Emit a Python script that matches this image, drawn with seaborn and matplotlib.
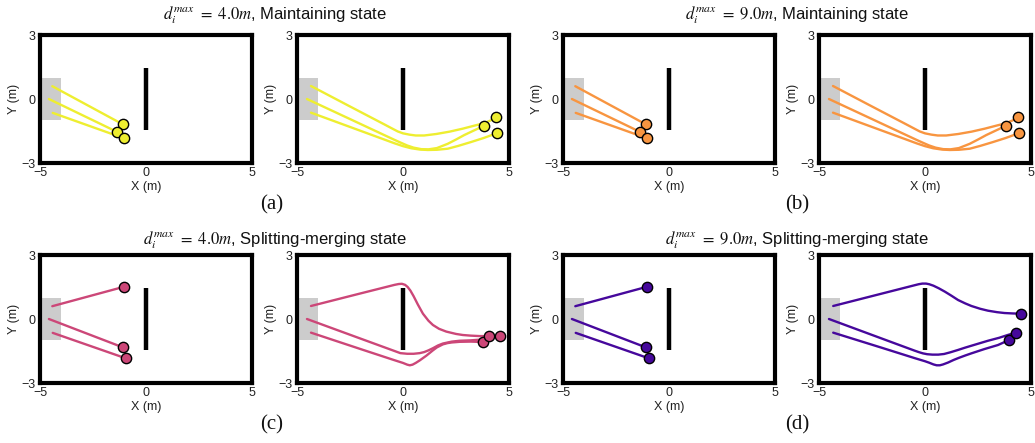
import matplotlib
matplotlib.use("Agg")
import matplotlib.pyplot as plt
import numpy as np
import pandas as pd
import seaborn as sns
from matplotlib.patches import Rectangle

# ---------------- data ----------------
START_ZONE_X = [-5.0, -4.0]
START_ZONE_Y = [-1.0, 1.0]
OBSTACLE_X = [0.0, 0.0]
OBSTACLE_Y = [-1.45, 1.45]

# Maintaining state, short horizon (left panels of a and b)
MAINT_SHORT_X = [[-4.42, -1.09], [-4.58, -1.35], [-4.40, -1.04]]
MAINT_SHORT_Y = [[0.60, -1.19], [0.00, -1.55], [-0.65, -1.84]]

# Maintaining state, full trajectories (right panels of a and b)
MAINT_LONG_X = [
    [-4.34, -2.5, -0.9, -0.5, -0.25, 0.0, 0.3, 0.6, 1.0, 1.57, 2.2, 2.82, 3.4, 3.76, 4.1, 4.41],
    [-4.53, -2.5, -0.8, -0.39, -0.1, 0.2, 0.5, 0.86, 1.2, 1.6, 2.11, 2.5, 2.89, 3.4, 3.84],
    [-4.34, -2.5, -0.8, -0.39, 0.0, 0.39, 0.8, 1.17, 1.6, 2.11, 2.6, 3.2, 3.8, 4.44],
]
MAINT_LONG_Y = [
    [0.61, -0.35, -1.18, -1.39, -1.52, -1.61, -1.67, -1.71, -1.71, -1.64, -1.53, -1.39, -1.24, -1.15, -1.02, -0.86],
    [0.00, -0.94, -1.73, -1.92, -2.05, -2.18, -2.28, -2.35, -2.36, -2.30, -2.10, -1.90, -1.69, -1.45, -1.25],
    [-0.64, -1.31, -1.93, -2.08, -2.21, -2.31, -2.37, -2.39, -2.38, -2.33, -2.20, -2.02, -1.83, -1.60],
]

# Splitting-merging state, short horizon (left panels of c and d)
SPLIT_SHORT_X = [[-4.42, -1.04], [-4.58, -1.09], [-4.40, -0.96]]
SPLIT_SHORT_Y = [[0.60, 1.51], [0.00, -1.33], [-0.65, -1.84]]

# Splitting-merging, d_max = 4.0 m (right panel of c)
SPLIT4_LONG_X = [
    [-4.34, -2.0, -0.4, -0.2, -0.05, 0.1, 0.22, 0.35, 0.5, 0.7, 0.94, 1.2, 1.41, 1.7, 2.04, 2.5, 2.82, 3.2, 3.6, 4.07, 4.58],
    [-4.53, -2.0, -0.4, -0.125, 0.2, 0.5, 0.79, 1.0, 1.2, 1.41, 1.65, 1.88, 2.3, 2.67, 3.2, 3.6, 3.85, 4.07],
    [-4.34, -2.0, -0.5, 0.0, 0.2, 0.32, 0.45, 0.6, 0.79, 1.1, 1.41, 1.6, 1.88, 2.1, 2.3, 2.67, 3.2, 3.79],
]
SPLIT4_LONG_Y = [
    [0.61, 1.20, 1.60, 1.64, 1.65, 1.60, 1.50, 1.33, 1.07, 0.68, 0.25, -0.08, -0.28, -0.46, -0.59, -0.70, -0.75, -0.78, -0.80, -0.80, -0.80],
    [0.00, -0.92, -1.50, -1.60, -1.63, -1.63, -1.60, -1.55, -1.47, -1.37, -1.24, -1.15, -1.06, -1.02, -1.00, -0.97, -0.90, -0.79],
    [-0.64, -1.41, -1.90, -2.06, -2.14, -2.17, -2.14, -2.06, -1.94, -1.72, -1.47, -1.33, -1.19, -1.13, -1.10, -1.07, -1.06, -1.08],
]

# Splitting-merging, d_max = 9.0 m (right panel of d)
SPLIT9_LONG_X = [
    [-4.33, -2.0, -0.5, -0.3, -0.125, 0.05, 0.2, 0.4, 0.65, 0.94, 1.25, 1.56, 1.9, 2.19, 2.6, 2.97, 3.4, 3.75, 4.15, 4.53],
    [-4.53, -2.0, -0.5, -0.3, -0.1, 0.1, 0.35, 0.625, 0.9, 1.2, 1.56, 1.9, 2.2, 2.6, 2.97, 3.5, 3.9, 4.27],
    [-4.33, -2.0, -0.5, 0.0, 0.2, 0.4, 0.55, 0.7, 0.85, 1.09, 1.35, 1.6, 1.9, 2.19, 2.8, 3.44, 3.98],
]
SPLIT9_LONG_Y = [
    [0.61, 1.20, 1.58, 1.63, 1.66, 1.66, 1.63, 1.56, 1.44, 1.28, 1.09, 0.89, 0.73, 0.61, 0.48, 0.39, 0.32, 0.28, 0.26, 0.25],
    [0.00, -0.93, -1.48, -1.55, -1.61, -1.65, -1.67, -1.67, -1.64, -1.56, -1.45, -1.34, -1.25, -1.13, -1.02, -0.88, -0.75, -0.64],
    [-0.64, -1.36, -1.83, -1.98, -2.05, -2.13, -2.17, -2.17, -2.13, -2.04, -1.92, -1.82, -1.71, -1.61, -1.41, -1.22, -0.98],
]

COLORS = {"yellow": "#EEEE30", "orange": "#F89540", "pink": "#CC4778", "purple": "#46089C"}
X_TICKS = [-5, 0, 5]
Y_TICKS = [-3, 0, 3]
GROUP_TITLES = [
    r"$d_i^{max}\ =\ 4.0m$, Maintaining state",
    r"$d_i^{max}\ =\ 9.0m$, Maintaining state",
    r"$d_i^{max}\ =\ 4.0m$, Splitting-merging state",
    r"$d_i^{max}\ =\ 9.0m$, Splitting-merging state",
]
PANEL_LABELS = ["(a)", "(b)", "(c)", "(d)"]

# ---------------- figure ----------------
sns.set_theme(style="white")
plt.rcParams["font.family"] = ["Liberation Sans", "DejaVu Sans"]
plt.rcParams["mathtext.fontset"] = "stix"

W, H = 1035, 443
fig = plt.figure(figsize=(W / 100, H / 100), dpi=100)

lefts = [40, 297, 563, 819]
tops = [35, 255]
aw, ah = 212, 128

panels = [
    (0, 0, MAINT_SHORT_X, MAINT_SHORT_Y, COLORS["yellow"]),
    (0, 1, MAINT_LONG_X, MAINT_LONG_Y, COLORS["yellow"]),
    (0, 2, MAINT_SHORT_X, MAINT_SHORT_Y, COLORS["orange"]),
    (0, 3, MAINT_LONG_X, MAINT_LONG_Y, COLORS["orange"]),
    (1, 0, SPLIT_SHORT_X, SPLIT_SHORT_Y, COLORS["pink"]),
    (1, 1, SPLIT4_LONG_X, SPLIT4_LONG_Y, COLORS["pink"]),
    (1, 2, SPLIT_SHORT_X, SPLIT_SHORT_Y, COLORS["purple"]),
    (1, 3, SPLIT9_LONG_X, SPLIT9_LONG_Y, COLORS["purple"]),
]

for row, col, xs, ys, color in panels:
    ax = fig.add_axes([lefts[col] / W, 1 - (tops[row] + ah) / H, aw / W, ah / H])
    rows = []
    for i, (px, py) in enumerate(zip(xs, ys)):
        for k, (a, b) in enumerate(zip(px, py)):
            rows.append({"x": a, "y": b, "agent": i, "step": k})
    df = pd.DataFrame(rows)
    ends = df.sort_values("step").groupby("agent").tail(1)

    ax.add_patch(Rectangle((START_ZONE_X[0], START_ZONE_Y[0]),
                           START_ZONE_X[1] - START_ZONE_X[0],
                           START_ZONE_Y[1] - START_ZONE_Y[0],
                           facecolor="#cccccc", edgecolor="none", zorder=0))
    ax.plot(OBSTACLE_X, OBSTACLE_Y, color="black", lw=3.2, solid_capstyle="butt", zorder=2)
    sns.lineplot(data=df, x="x", y="y", units="agent", estimator=None, sort=False,
                 color=color, lw=1.7, ax=ax, zorder=3)
    sns.scatterplot(data=ends, x="x", y="y", color=color, s=55, edgecolor="black",
                    linewidth=1.0, ax=ax, zorder=4, legend=False)

    ax.set_xlim(-5, 5)
    ax.set_ylim(-3, 3)
    ax.set_xticks(X_TICKS)
    ax.set_yticks(Y_TICKS)
    ax.set_xticklabels([f"{t}".replace("-", "\u2212") for t in X_TICKS])
    ax.set_yticklabels([f"{t}".replace("-", "\u2212") for t in Y_TICKS])
    ax.tick_params(length=0, pad=3, labelsize=9, colors="#222222")
    ax.set_xlabel("X (m)", fontsize=9, labelpad=1, color="#222222")
    ax.set_ylabel("Y (m)", fontsize=9, labelpad=1, color="#222222")
    for sp in ax.spines.values():
        sp.set_visible(True)
        sp.set_color("black")
        sp.set_linewidth(3.0)
    ax.grid(False)

# group titles
title_pos = [(275, 15), (797, 15), (275, 240), (797, 240)]
for (tx, ty), t in zip(title_pos, GROUP_TITLES):
    fig.text(tx / W, 1 - ty / H, t, ha="center", va="center", fontsize=12, color="#111111")

label_pos = [(272, 205), (797, 205), (272, 425), (797, 425)]
for (lx, ly), t in zip(label_pos, PANEL_LABELS):
    fig.text(lx / W, 1 - ly / H, t, ha="center", va="center", fontsize=15,
             family=["Liberation Serif", "DejaVu Serif"], color="#111111")

fig.savefig("out.png", dpi=100)
